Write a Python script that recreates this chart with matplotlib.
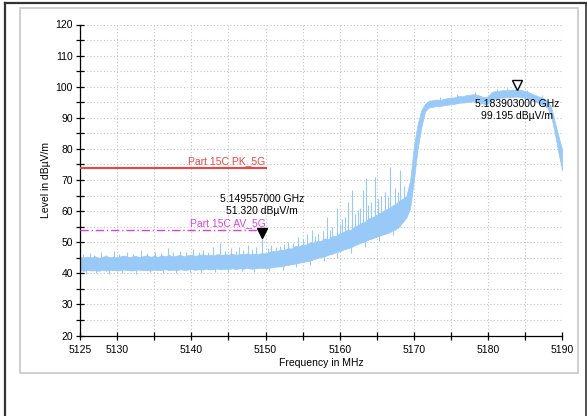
import numpy as np
import matplotlib
matplotlib.use("Agg")
import matplotlib.pyplot as plt
from matplotlib.lines import Line2D
from matplotlib.patches import Rectangle
from matplotlib import transforms

plt.rcParams['font.family'] = ['Liberation Sans', 'DejaVu Sans']

# ---------------- data ----------------
freq = np.linspace(5125.0, 5190.0, 131)  # MHz, 0.5 MHz sweep points

trace_lower = [
    41.0, 40.8, 41.1, 40.9, 41.0, 40.8, 41.2, 40.9, 41.0, 41.1,
    40.9, 41.0, 41.2, 41.0, 40.9, 41.1, 41.2, 41.0, 41.1, 40.9,
    41.2, 41.0, 41.1, 41.3, 41.0, 41.2, 41.0, 41.3, 41.1, 41.2,
    41.4, 41.1, 41.3, 41.2, 41.5, 41.2, 41.4, 41.5, 41.3, 41.5,
    41.4, 41.6, 41.4, 41.6, 41.5, 41.7, 41.5, 41.6, 41.7, 41.8,
    41.7,
    41.8, 42.0, 42.2, 42.2, 42.5, 42.7, 42.9, 43.1, 43.4, 43.6,
    43.9, 44.1, 44.6, 44.9, 45.3, 45.5, 46.0, 46.3, 46.8, 47.1,
    47.6, 48.0, 48.4, 49.0, 49.5, 50.0, 50.4, 51.0, 51.3, 51.8,
    52.2, 52.6, 53.0, 53.6, 54.2, 55.0, 56.5, 58.0,
    61.0, 70.0, 80.0, 87.0, 92.0, 93.3,
    93.5, 93.8, 93.7, 94.0, 94.2, 94.4, 94.5, 94.8, 94.9, 95.0,
    95.2, 95.3, 95.2, 94.8, 94.4, 94.6, 95.8, 96.2, 96.4, 96.5,
    96.6, 96.7, 96.8, 96.8, 96.6, 96.3, 96.0, 95.5, 95.1, 94.6,
    94.0, 93.3, 90.5, 85.0, 78.5, 73.0,
]

trace_upper = [
    45.2, 45.0, 45.4, 45.1, 45.5, 45.0, 45.3, 45.6, 45.1, 45.4,
    45.1, 45.5, 45.7, 45.2, 45.4, 45.6, 45.2, 45.5, 45.8, 45.3,
    45.6, 45.3, 45.8, 45.5, 45.9, 45.4, 45.7, 45.9, 45.5, 45.8,
    46.0, 45.6, 45.9, 46.1, 45.8, 46.0, 45.7, 46.2, 45.9, 46.1,
    46.0, 46.3, 45.9, 46.2, 46.1, 46.4, 46.1, 46.3, 46.2, 46.5,
    46.4,
    46.8, 47.2, 47.1, 47.6, 47.5, 48.1, 48.0, 48.8, 48.6, 49.3,
    49.2, 50.0, 49.8, 50.5, 50.4, 51.2, 51.0, 52.0, 52.0, 52.9,
    53.3, 54.0, 54.0, 55.1, 55.5, 56.3, 56.7, 57.8, 58.1, 58.9,
    59.5, 60.3, 60.8, 61.6, 62.2, 63.3, 64.0, 65.0,
    70.0, 81.0, 88.0, 92.5, 94.5, 95.5,
    95.6, 95.9, 95.7, 96.1, 96.3, 96.5, 96.6, 97.0, 96.9, 97.3,
    97.4, 97.6, 97.4, 97.0, 96.6, 96.9, 98.3, 98.6, 98.7, 98.9,
    98.8, 99.0, 99.1, 99.2, 98.9, 98.6, 98.2, 97.6, 97.2, 96.7,
    96.2, 95.5, 93.5, 88.5, 84.0, 79.5,
]

spike_freq = [
    5125.4, 5126.3, 5126.9, 5127.8, 5128.5, 5129.6, 5130.3, 5131.4, 5132.1, 5133.2,
    5134.0, 5135.1, 5135.9, 5136.8, 5137.6, 5138.5, 5139.3, 5140.2, 5141.0, 5141.6,
    5142.3, 5142.9, 5143.9, 5144.6, 5145.3, 5146.0, 5146.4, 5147.0, 5147.6, 5148.2,
    5148.7, 5149.557,
    5150.3, 5150.8, 5151.4, 5151.9, 5152.5, 5153.0, 5153.7, 5154.4, 5155.0, 5155.6,
    5156.2, 5156.7, 5157.1, 5157.7, 5158.3, 5158.7, 5159.0, 5159.6, 5160.0, 5160.3,
    5160.7, 5161.1, 5161.7, 5162.0, 5162.4, 5162.8, 5163.1, 5163.5, 5163.8, 5164.2,
    5164.8, 5165.2, 5165.5, 5166.1, 5166.5, 5166.8, 5167.4, 5167.8, 5168.1, 5168.7,
    5173.5, 5175.8, 5178.2, 5181.2, 5182.6, 5185.3, 5187.3,
]
spike_level = [
    46.2, 46.5, 45.9, 46.8, 46.0, 47.2, 46.1, 46.9, 46.3, 47.6,
    46.4, 47.0, 46.6, 48.1, 46.8, 47.3, 46.7, 47.8, 46.9, 47.5,
    47.0, 48.4, 49.7, 47.2, 48.0, 47.3, 48.6, 47.5, 49.1, 47.8,
    48.3, 51.32,
    48.0, 49.0, 48.5, 48.8, 49.3, 50.2, 49.8, 51.8, 51.0, 52.5,
    54.0, 52.0, 52.6, 53.5, 58.2, 54.0, 55.0, 61.0, 56.0, 57.5,
    58.0, 63.0, 66.8, 59.0, 60.5, 61.0, 66.8, 70.6, 62.0, 63.0,
    71.0, 64.0, 65.0, 66.0, 64.5, 74.3, 67.5, 66.0, 73.2, 68.0,
    96.8, 97.6, 98.2, 99.3, 99.5, 99.0, 97.2,
]

dip_freq = [5125.8, 5127.2, 5128.9, 5130.7, 5132.6, 5134.4, 5136.2, 5138.0,
            5139.8, 5141.3, 5143.2, 5145.0, 5146.8, 5148.5, 5150.5, 5152.3,
            5154.1, 5156.0, 5157.9, 5159.7, 5161.5, 5163.4, 5165.3, 5167.2]
dip_level = [39.9, 40.2, 39.8, 40.1, 39.9, 40.3, 40.0, 40.2,
             40.4, 40.1, 40.5, 40.3, 40.7, 40.5, 40.9, 41.2,
             42.0, 42.8, 43.9, 45.0, 46.6, 48.5, 50.5, 52.3]

limit_freq = [5125.0, 5150.0]
limit_pk = [74.0, 74.0]
limit_av = [54.0, 54.0]
limit_pk_label = "Part 15C PK_5G"
limit_av_label = "Part 15C AV_5G"

marker1 = (5149.557, 51.320)
marker1_text = "5.149557000 GHz\n51.320 dBµV/m"
marker2 = (5183.903, 99.195)
marker2_text = "5.183903000 GHz\n99.195 dBµV/m"

x_major = [5125, 5130, 5140, 5150, 5160, 5170, 5180, 5190]
x_minor = [5135, 5145, 5155, 5165, 5175, 5185]
y_major = [20, 30, 40, 50, 60, 70, 80, 90, 100, 110, 120]

# ---------------- figure ----------------
W, H = 587, 416
fig = plt.figure(figsize=(W / 100, H / 100), dpi=100)
fig.patch.set_facecolor('white')

# outer frame lines
fig.add_artist(Line2D([5 / W, 5 / W], [0, 1 - 3 / H], color='#333333', lw=1.6,
                      transform=fig.transFigure))
fig.add_artist(Line2D([5 / W, 586 / W], [1 - 3 / H, 1 - 3 / H], color='#333333', lw=1.6,
                      transform=fig.transFigure))
fig.add_artist(Line2D([586 / W, 586 / W], [0, 1 - 3 / H], color='#333333', lw=1.2,
                      transform=fig.transFigure))
# inner light-gray panel
fig.add_artist(Rectangle((20 / W, 1 - 373 / H), (578 - 20) / W, (373 - 8) / H,
                         fill=False, edgecolor='#CCCCCC', lw=1.3,
                         transform=fig.transFigure))

ax = fig.add_axes([80 / W, 1 - 335.5 / H, (562.3 - 80) / W, (335.5 - 24.5) / H])
ax.set_xlim(5125, 5190)
ax.set_ylim(20, 120)

# grid every 5
for gx in range(5130, 5191, 5):
    ax.axvline(gx, color='#C4C4C4', lw=0.8, ls=(0, (1, 2)), zorder=0)
for gy in range(25, 121, 5):
    ax.axhline(gy, color='#C4C4C4', lw=0.8, ls=(0, (1, 2)), zorder=0)

trace_color = '#99C9F7'
ax.fill_between(freq, trace_lower, trace_upper, color=trace_color, lw=0.5,
                edgecolor=trace_color, zorder=2)
sbase = np.interp(spike_freq, freq, trace_lower)
ax.vlines(spike_freq, sbase, spike_level, color=trace_color, lw=0.8, zorder=2)
dtop = np.interp(dip_freq, freq, trace_upper)
ax.vlines(dip_freq, dip_level, dtop, color=trace_color, lw=0.8, zorder=2)

# limit lines
ax.plot(limit_freq, limit_pk, color='#EE4444', lw=1.5, zorder=3)
ax.plot(limit_freq, limit_av, color='#E040E0', lw=1.0, ls=(0, (6, 2, 1, 2)), zorder=3)
ax.text(limit_freq[1], limit_pk[0] + 0.4, limit_pk_label, color='#EE4444',
        fontsize=7.5, ha='right', va='bottom', zorder=4)
ax.text(limit_freq[1], limit_av[0] + 0.6, limit_av_label, color='#E040E0',
        fontsize=7.5, ha='right', va='bottom', zorder=4)

# markers (tip of triangle at the point)
ms = 7.5
off = transforms.offset_copy(ax.transData, fig=fig, x=0, y=ms * 0.45, units='points')
ax.plot([marker1[0]], [marker1[1]], marker='v', ms=ms, color='black',
        transform=off, zorder=5, clip_on=False)
ax.plot([marker2[0]], [marker2[1]], marker='v', ms=ms, mfc='white', mec='black',
        mew=1.0, transform=off, zorder=5, clip_on=False)
ax.text(marker1[0], 58.4, marker1_text, fontsize=7.5, ha='center', va='bottom',
        multialignment='center', linespacing=1.25, zorder=6)
ax.text(marker2[0], 96.2, marker2_text, fontsize=7.5, ha='center', va='top',
        multialignment='center', linespacing=1.3, zorder=6)

# axes styling
for s in ['top', 'right']:
    ax.spines[s].set_visible(False)
for s in ['left', 'bottom']:
    ax.spines[s].set_color('black')
    ax.spines[s].set_linewidth(0.9)

ax.set_xticks(x_major)
ax.set_xticks(x_minor, minor=True)
ax.set_xticklabels([str(v) for v in x_major])
ax.set_yticks(y_major)
ax.set_yticks(list(range(25, 120, 10)), minor=True)
ax.set_yticklabels([str(v) for v in y_major])
ax.tick_params(axis='both', which='both', direction='inout', length=6, width=0.9,
               labelsize=7.5, colors='black')
ax.tick_params(axis='x', which='both', pad=4)
ax.tick_params(axis='y', which='both', pad=2)

ax.set_xlabel("Frequency in MHz", fontsize=7.5, labelpad=2)
ax.set_ylabel("Level in dBµV/m", fontsize=7.5, labelpad=3)

fig.savefig("out.png", dpi=100, facecolor='white')
